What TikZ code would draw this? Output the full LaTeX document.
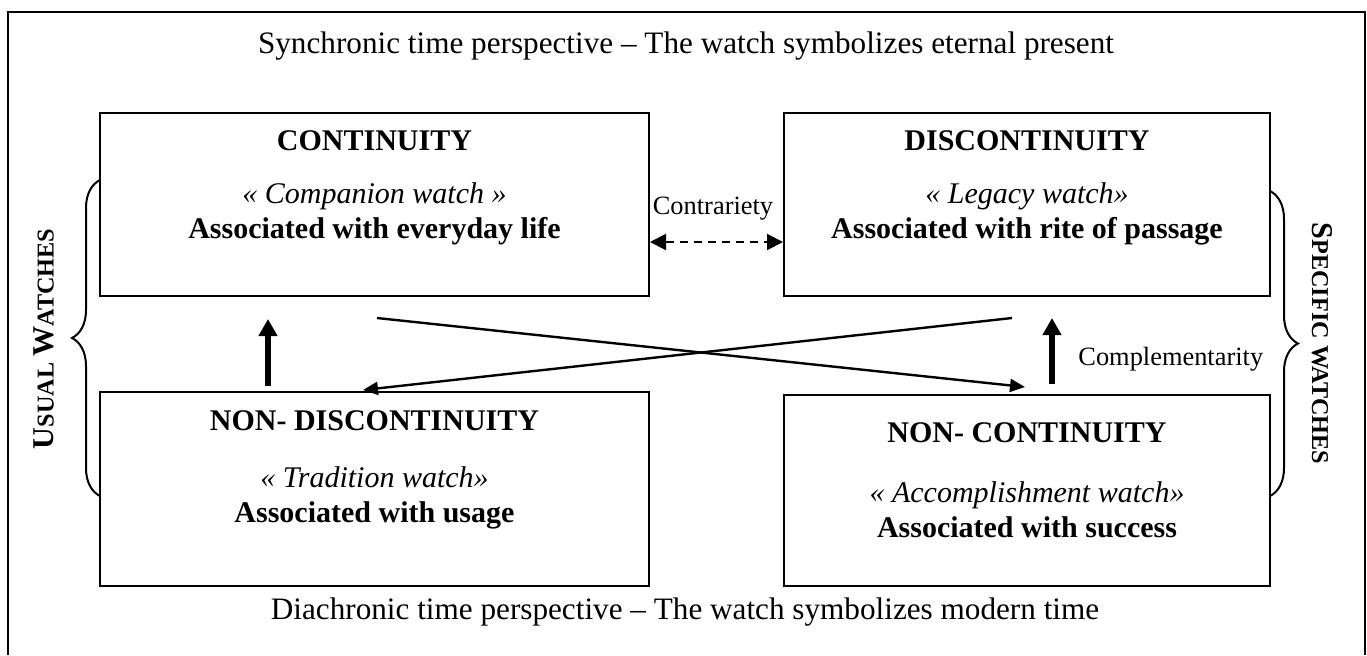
\documentclass[tikz,border=0pt]{standalone}
\usepackage{fontspec}
\setmainfont{Liberation Serif}
\usetikzlibrary{arrows.meta,decorations.pathreplacing}

\newcommand{\scbig}{\fontsize{15.1}{18}\selectfont}
\newcommand{\scsmall}{\fontsize{12.1}{14}\selectfont}

\begin{document}
\begin{tikzpicture}[x=0.5pt, y=-0.5pt,
    box/.style={draw, line width=1pt, inner sep=0pt},
    head/.style={anchor=base, font=\fontsize{15}{18}\selectfont\bfseries},
    nick/.style={anchor=base, font=\fontsize{15}{18}\selectfont\itshape},
    plain/.style={anchor=base, font=\fontsize{15.6}{18}\selectfont},
    rel/.style={anchor=base, inner sep=0pt, font=\fontsize{13.2}{16}\selectfont},
    side/.style={font=\bfseries, inner sep=0pt},
    bigarrow/.style={line width=3pt, -{Triangle[length=8.5pt,width=9pt]}},
    crossarrow/.style={line width=1.2pt, -{Triangle[length=7.5pt,width=6.5pt]}},
    dasharrow/.style={line width=1pt, dash pattern=on 4pt off 3pt,
      {Triangle[length=8pt,width=8pt]}-{Triangle[length=8pt,width=8pt]}},
    bracket/.style={line width=1pt, decorate, decoration={brace, amplitude=14pt}}]

    \useasboundingbox (0, 0) rectangle (1367, 655);
    \draw[line width=1pt] (8, 655) -- (8, 12) -- (1365, 12) -- (1365, 655);

    \node[plain] (top) at (686, 53) {Synchronic time perspective -- The watch symbolizes eternal present};
    \node[plain] (bot) at (685, 619) {Diachronic time perspective -- The watch symbolizes modern time};

    % upper boxes
    \node[box, minimum width=274.5pt, minimum height=91.5pt] (bC) at (374.5, 204.5) {};
    \node[head] (tC) at (374.5, 150) {CONTINUITY};
    \node[nick] (iC) at (374.5, 203) {« Companion watch »};
    \node[head] (aC) at (374.5, 238) {Associated with everyday life};

    \node[box, minimum width=243pt, minimum height=91.5pt] (bD) at (1027, 204.5) {};
    \node[head] (tD) at (1027, 150) {DISCONTINUITY};
    \node[nick] (iD) at (1027, 203) {« Legacy watch»};
    \node[head] (aD) at (1027, 238) {Associated with rite of passage};

    % lower boxes
    \node[box, minimum width=274.5pt, minimum height=97pt] (bND) at (374.5, 489) {};
    \node[head] (tND) at (374.5, 430) {NON- DISCONTINUITY};
    \node[nick] (iND) at (374.5, 487) {« Tradition watch»};
    \node[head] (aND) at (374.5, 522) {Associated with usage};

    \node[box, minimum width=243pt, minimum height=95.5pt] (bNC) at (1027, 490.5) {};
    \node[head] (tNC) at (1027, 442) {NON- CONTINUITY};
    \node[nick] (iNC) at (1027, 502) {« Accomplishment watch»};
    \node[head] (aNC) at (1027, 537) {Associated with success};

    % relations
    \coordinate (dy) at (0, 242);
    \node[rel] (lCon) at (713, 214) {Contrariety};
    \draw[dasharrow] (bC.east |- dy) -- (bD.west |- dy);

    \coordinate (aL) at (268, 0);
    \coordinate (aR) at (1052, 0);
    \draw[bigarrow, shorten <=2.5pt, shorten >=11pt] (bND.north -| aL) -- (bC.south -| aL);
    \draw[bigarrow, shorten <=5pt, shorten >=10.5pt] (bNC.north -| aR) -- (bD.south -| aR);
    \node[rel, anchor=base west] (lCom) at (1078, 365) {Complementarity};

    \coordinate (x1s) at (377, 318);
    \coordinate (x1e) at (1025, 387);
    \coordinate (x2s) at (1012, 318);
    \coordinate (x2e) at (363, 390);
    \draw[crossarrow] (x1s) -- (x1e);
    \draw[crossarrow] (x2s) -- (x2e);

    % side braces
    \draw[bracket] (100, 496) -- (100, 180);
    \draw[bracket] (1270, 191) -- (1270, 496);
    \node[side, rotate=90] (usual) at (44, 339) {\scbig U\scsmall SUAL \scbig W\scsmall ATCHES};
    \node[side, rotate=-90] (specific) at (1322, 343.5) {\scbig S\scsmall PECIFIC WATCHES};

  \end{tikzpicture}
\end{document}
